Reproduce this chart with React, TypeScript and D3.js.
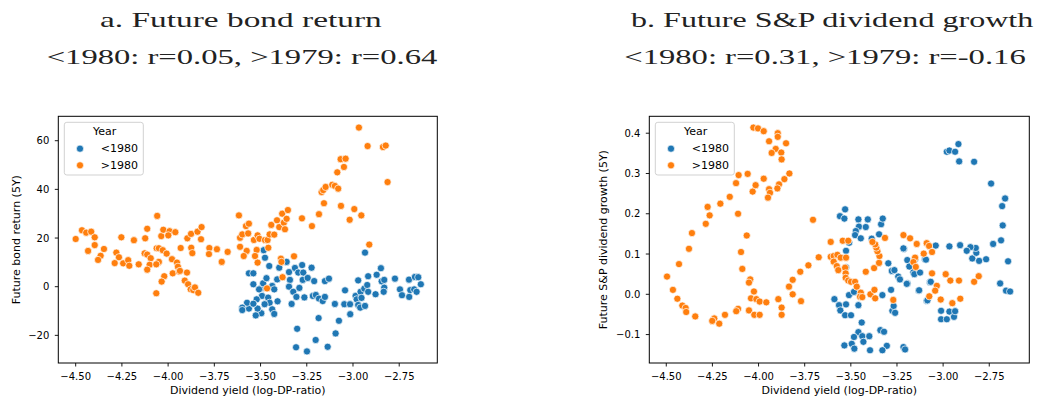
import React from "react";
import * as d3 from "d3";

// ---------- DATA ----------
// Panel a: future bond return (5Y) vs dividend yield
const bondPre: [number, number][] = [
  [-3.483, 15.0], [-3.476, 11.9], [-3.453, 8.5], [-3.563, 5.5], [-3.539, 5.5], [-3.539, 1.0], [-3.498, -0.7],
  [-3.486, 1.4], [-3.468, 3.5], [-3.437, 0.3], [-3.426, -1.1], [-3.41, 3.0], [-3.492, -3.8], [-3.459, -4.5],
  [-3.521, -5.2], [-3.451, -6.6], [-3.408, -6.0], [-3.478, -7.2], [-3.437, -9.3], [-3.426, -11.2], [-3.496, -10.9],
  [-3.516, -9.0], [-3.526, -11.8], [-3.563, -9.0], [-3.573, -6.6], [-3.599, -8.6], [-3.599, -9.6], [-3.539, -7.0],
  [-3.508, -1.1], [-3.359, 10.2], [-3.399, 7.8], [-3.346, 6.0], [-3.314, 7.7], [-3.296, 5.8], [-3.275, 8.9],
  [-3.269, 5.8], [-3.341, 2.8], [-3.272, 2.8], [-3.245, 3.6], [-3.224, 7.8], [-3.346, 0.0], [-3.323, -2.1],
  [-3.29, -0.5], [-3.306, -4.2], [-3.263, -4.4], [-3.332, -7.1], [-3.217, -3.8], [-3.302, -17.3], [-3.308, -24.9],
  [-3.249, -26.6], [-2.935, 14.0], [-3.21, 2.3], [-3.201, -3.4], [-3.184, -4.9], [-3.164, -5.9], [-3.152, -4.2],
  [-3.152, 2.3], [-3.13, 3.3], [-3.186, -12.9], [-3.202, -21.9], [-3.137, -24.7], [-3.098, -7.1], [-3.076, -14.0],
  [-3.094, -19.2], [-3.043, -1.5], [-3.047, -7.2], [-3.016, -7.2], [-3.015, -11.3], [-2.986, -3.8], [-2.98, -5.2],
  [-2.972, 2.6], [-2.959, -2.1], [-2.954, -4.6], [-2.972, -7.5], [-2.961, -8.6], [-2.935, -7.9], [-2.939, -0.8],
  [-2.923, 0.7], [-2.918, -2.1], [-2.918, 4.3], [-2.878, -3.1], [-2.872, 4.9], [-2.849, 7.6], [-2.845, 2.2],
  [-2.831, 2.8], [-2.831, -0.4], [-2.834, -2.1], [-2.773, 3.3], [-2.746, -1.1], [-2.735, -3.5], [-2.697, 2.9],
  [-2.69, -1.4], [-2.696, -4.2], [-2.669, -1.1], [-2.665, 4.0], [-2.647, 3.9], [-2.656, -2.1], [-2.633, 1.0],
];

const bondPost: [number, number][] = [
  [-4.5, 19.6], [-4.466, 23.2], [-4.443, 22.2], [-4.416, 22.6], [-4.397, 20.3], [-4.397, 17.1], [-4.433, 14.7],
  [-4.347, 15.5], [-4.365, 12.7], [-4.379, 11.0], [-4.28, 14.0], [-4.266, 12.1], [-4.289, 9.7], [-4.253, 20.3],
  [-4.243, 9.6], [-4.216, 10.9], [-4.21, 8.6], [-4.185, 19.1], [-4.159, 9.2], [-4.124, 19.9], [-4.113, 23.8],
  [-4.059, 29.1], [-4.127, 13.7], [-4.113, 13.2], [-4.094, 11.7], [-4.1, 9.0], [-4.113, 7.0], [-4.064, -2.7],
  [-4.062, 15.8], [-4.05, 15.8], [-4.05, 10.2], [-4.064, 9.2], [-4.037, 20.8], [-4.026, 23.4], [-4.029, 15.0],
  [-4.008, 13.6], [-4.021, 4.3], [-4.035, 2.1], [-3.992, 22.8], [-3.961, 22.4], [-3.999, 21.1], [-3.979, 11.3],
  [-3.952, 9.9], [-3.947, 8.2], [-3.975, 5.5], [-3.932, 15.9], [-3.896, 19.9], [-3.876, 21.7], [-3.875, 16.0],
  [-3.869, 13.8], [-3.91, 2.5], [-3.892, 1.0], [-3.878, -1.1], [-3.941, 6.2], [-3.936, 6.5], [-3.898, 5.8],
  [-3.864, -1.4], [-3.855, -0.3], [-3.837, -2.5], [-3.841, 22.6], [-3.819, 24.5], [-3.822, 19.5], [-3.777, 15.9],
  [-3.779, 13.4], [-3.736, 15.4], [-3.71, 10.2], [-3.678, 14.3], [-3.617, 29.3], [-3.611, 20.1], [-3.611, 16.4],
  [-3.599, 21.5], [-3.579, 24.9], [-3.563, 25.9], [-3.567, 21.9], [-3.575, 14.7], [-3.591, 12.6], [-3.536, 19.2],
  [-3.516, 21.1], [-3.506, 19.7], [-3.521, 15.1], [-3.53, 12.6], [-3.516, 9.9], [-3.476, 19.2], [-3.462, 19.2],
  [-3.451, 21.5], [-3.458, 16.0], [-3.465, -0.7], [-3.442, 25.4], [-3.426, 21.4], [-3.411, 27.3], [-3.399, 24.5],
  [-3.383, 30.0], [-3.374, 26.3], [-3.368, 23.6], [-3.359, 27.9], [-3.352, 31.5], [-3.39, 11.5], [-3.387, 10.2],
  [-3.381, 3.9], [-3.319, 12.5], [-3.276, 28.1], [-3.222, 24.9], [-3.184, 29.8], [-3.157, 34.3], [-3.17, 38.9],
  [-3.161, 39.7], [-3.148, 41.0], [-3.112, 41.9], [-3.098, 41.4], [-3.08, 40.3], [-3.085, 47.0], [-3.067, 52.4],
  [-3.04, 52.6], [-3.049, 49.2], [-3.065, 33.2], [-3.018, 27.5], [-2.993, 31.9], [-2.955, 29.3], [-2.968, 65.4],
  [-2.921, 57.8], [-2.838, 57.4], [-2.823, 58.0], [-2.813, 43.0], [-2.912, 17.3],
];

// Panel b: future S&P dividend growth (5Y) vs dividend yield
const divPre: [number, number][] = [
  [-3.531, 0.211], [-3.559, 0.194], [-3.535, 0.188], [-3.459, 0.186], [-3.408, 0.186], [-3.456, 0.168],
  [-3.473, 0.157], [-3.477, 0.147], [-3.419, 0.167], [-3.336, 0.174], [-3.327, 0.188], [-3.347, 0.149],
  [-3.387, 0.138], [-3.446, 0.139], [-3.509, 0.128], [-3.526, 0.108], [-3.297, 0.077], [-3.278, 0.058],
  [-3.264, 0.06], [-3.243, 0.044], [-3.234, 0.037], [-3.212, 0.113], [-3.282, 0.011], [-3.329, -0.002],
  [-3.275, -0.041], [-3.268, -0.029], [-3.51, -0.002], [-3.483, 0.006], [-3.459, -0.027], [-3.589, -0.012],
  [-3.564, -0.027], [-3.526, -0.025], [-3.557, -0.04], [-3.531, -0.052], [-3.499, -0.052], [-3.441, -0.07],
  [-3.459, -0.094], [-3.483, -0.106], [-3.438, -0.104], [-3.4, -0.104], [-3.432, -0.118], [-3.495, -0.123],
  [-3.535, -0.127], [-3.481, -0.135], [-3.396, -0.139], [-3.34, -0.089], [-3.32, -0.093], [-3.305, -0.128],
  [-3.329, -0.139], [-3.215, -0.131], [-3.206, -0.137], [-3.193, 0.027], [-3.161, 0.055], [-3.179, 0.074],
  [-3.152, 0.087], [-3.098, 0.087], [-3.04, 0.121], [-3.071, 0.03], [-3.132, 0.009], [-3.089, -0.016],
  [-3.011, -0.041], [-3.011, -0.062], [-2.98, -0.062], [-2.966, -0.043], [-2.941, -0.056], [-2.935, -0.042],
  [-2.98, 0.354], [-2.966, 0.357], [-2.935, 0.354], [-2.917, 0.373], [-2.913, 0.33], [-2.832, 0.329],
  [-2.74, 0.275], [-2.664, 0.238], [-2.68, 0.219], [-2.677, 0.171], [-2.686, 0.134], [-2.729, 0.125],
  [-2.767, 0.087], [-2.648, 0.082], [-2.805, 0.083], [-2.842, 0.089], [-2.82, 0.103], [-2.823, 0.115],
  [-2.852, 0.117], [-2.872, 0.108], [-2.908, 0.122], [-2.966, 0.119], [-3.093, 0.086], [-3.215, 0.114],
  [-3.194, 0.085], [-3.183, 0.069], [-3.156, 0.05], [-3.125, 0.054], [-3.197, 0.026], [-3.13, 0.01],
  [-3.067, 0.031], [-3.085, -0.015], [-2.691, 0.027], [-2.659, 0.009], [-2.637, 0.007], [-3.26, -0.046],
  [-3.526, 0.067],
];

const divPost: [number, number][] = [
  [-4.496, 0.044], [-4.464, 0.011], [-4.44, -0.011], [-4.413, -0.028], [-4.395, -0.034], [-4.392, -0.044],
  [-4.343, -0.055], [-4.431, 0.075], [-4.377, 0.113], [-4.361, 0.152], [-4.286, 0.175], [-4.265, 0.196],
  [-4.276, 0.217], [-4.207, 0.225], [-4.156, 0.242], [-4.122, 0.276], [-4.108, 0.296], [-4.059, 0.299],
  [-4.111, 0.2], [-4.064, 0.146], [-4.095, 0.105], [-4.088, 0.063], [-4.045, 0.037], [-4.052, 0.029],
  [-4.025, 0.007], [-4.041, -0.01], [-4.012, -0.012], [-3.994, -0.018], [-3.958, -0.02], [-4.052, -0.04],
  [-4.023, -0.051], [-3.994, -0.051], [-4.111, -0.036], [-4.121, -0.042], [-4.182, -0.051], [-4.24, -0.06],
  [-4.251, -0.066], [-4.213, -0.073], [-4.032, 0.255], [-4.016, 0.271], [-3.972, 0.287], [-4.028, 0.414],
  [-4.003, 0.412], [-3.972, 0.405], [-3.896, 0.4], [-3.896, 0.391], [-3.943, 0.38], [-3.907, 0.361],
  [-3.929, 0.351], [-3.877, 0.352], [-3.875, 0.335], [-3.943, 0.261], [-3.938, 0.252], [-3.949, 0.24],
  [-3.893, -0.012], [-3.875, -0.033], [-3.875, -0.051], [-3.851, 0.375], [-3.833, 0.3], [-3.86, 0.286],
  [-3.889, 0.273], [-3.898, 0.263], [-3.835, 0.019], [-3.815, 0.036], [-3.815, 0.0], [-3.774, 0.056],
  [-3.77, -0.017], [-3.73, 0.072], [-3.705, 0.185], [-3.674, 0.092], [-3.609, 0.13], [-3.609, 0.093],
  [-3.593, 0.095], [-3.573, 0.098], [-3.593, 0.081], [-3.576, 0.07], [-3.568, 0.06], [-3.555, 0.091],
  [-3.526, 0.091], [-3.544, 0.133], [-3.514, 0.133], [-3.531, 0.066], [-3.528, 0.052], [-3.528, 0.041],
  [-3.514, 0.034], [-3.499, 0.031], [-3.477, 0.031], [-3.468, 0.019], [-3.446, 0.004], [-3.45, -0.006],
  [-3.438, -0.007], [-3.394, 0.0], [-3.372, 0.011], [-3.368, -0.01], [-3.419, 0.056], [-3.374, 0.065],
  [-3.347, 0.078], [-3.345, 0.095], [-3.356, 0.107], [-3.362, 0.116], [-3.368, 0.124], [-3.383, 0.13],
  [-3.315, 0.14], [-3.27, -0.014], [-3.215, 0.147], [-3.179, 0.139], [-3.143, 0.125], [-3.089, 0.127],
  [-3.076, 0.12], [-3.06, 0.105], [-3.105, 0.101], [-3.152, 0.091], [-3.161, 0.08], [-3.148, 0.068],
  [-3.06, 0.052], [-3.034, 0.021], [-3.043, 0.009], [-3.075, -0.005], [-3.013, -0.013], [-2.986, 0.05],
  [-2.961, 0.034], [-2.95, -0.022], [-2.914, 0.034], [-2.907, -0.011], [-2.832, 0.031], [-2.807, 0.045],
];

const xTicks = [-4.5, -4.25, -4.0, -3.75, -3.5, -3.25, -3.0, -2.75];
const bondYTicks = [-20, 0, 20, 40, 60];
const divYTicks = [-0.1, 0.0, 0.1, 0.2, 0.3, 0.4];
const legendLabels = ["<1980", ">1980"];
const legendTitle = "Year";
const xLabel = "Dividend yield (log-DP-ratio)";
const bondTitle = ["a. Future bond return", "<1980: r=0.05, >1979: r=0.64"];
const divTitle = ["b. Future S&P dividend growth", "<1980: r=0.31, >1979: r=-0.16"];

const BLUE = "#1f77b4";
const ORANGE = "#ff7f0e";
const SANS = "'DejaVu Sans', sans-serif";
const SERIF = "'Liberation Serif', 'DejaVu Serif', serif";

type PanelProps = {
  left: number;
  right: number;
  top: number;
  bottom: number;
  xDomain: [number, number];
  yDomain: [number, number];
  yTicks: number[];
  yFmt: (v: number) => string;
  yLabel: string;
  yLabelX: number;
  pre: [number, number][];
  post: [number, number][];
  title: string[];
  titleX: number[];
  titleLen: number[];
};

function Panel(p: PanelProps) {
  const x = d3.scaleLinear().domain(p.xDomain).range([p.left, p.right]);
  const y = d3.scaleLinear().domain(p.yDomain).range([p.bottom, p.top]);
  const xFmt = d3.format(".2f");
  const tick = 3.5;
  const cx = (p.left + p.right) / 2;
  const cy = (p.top + p.bottom) / 2;
  const lx = p.left + 6;
  const ly = p.top + 6;
  return (
    <g>
      {/* titles */}
      {p.title.map((t, i) => (
        <text
          key={t}
          x={p.titleX[i]}
          y={i === 0 ? 27.3 : 64.3}
          fontFamily={SERIF}
          fontSize={22}
          textLength={p.titleLen[i]}
          lengthAdjust="spacingAndGlyphs"
          fill="#222"
        >
          {t}
        </text>
      ))}
      {/* points */}
      <g>
        {p.pre.map((d, i) => (
          <circle key={"a" + i} cx={x(d[0])} cy={y(d[1])} r={3.6} fill={BLUE} stroke="#fff" strokeWidth={0.7} />
        ))}
        {p.post.map((d, i) => (
          <circle key={"b" + i} cx={x(d[0])} cy={y(d[1])} r={3.6} fill={ORANGE} stroke="#fff" strokeWidth={0.7} />
        ))}
      </g>
      {/* frame */}
      <rect x={p.left} y={p.top} width={p.right - p.left} height={p.bottom - p.top} fill="none" stroke="#000" strokeWidth={1} />
      {/* x ticks */}
      {xTicks.map((t) => (
        <g key={"x" + t}>
          <line x1={x(t)} x2={x(t)} y1={p.bottom} y2={p.bottom + tick} stroke="#000" strokeWidth={0.9} />
          <text x={x(t)} y={p.bottom + 16.5} textAnchor="middle" fontFamily={SANS} fontSize={10} fill="#000">
            {xFmt(t)}
          </text>
        </g>
      ))}
      {/* y ticks */}
      {p.yTicks.map((t) => (
        <g key={"y" + t}>
          <line x1={p.left - tick} x2={p.left} y1={y(t)} y2={y(t)} stroke="#000" strokeWidth={0.9} />
          <text x={p.left - 9} y={y(t) + 3.6} textAnchor="end" fontFamily={SANS} fontSize={10} fill="#000">
            {p.yFmt(t)}
          </text>
        </g>
      ))}
      {/* axis labels */}
      <text x={cx} y={394} textAnchor="middle" fontFamily={SANS} fontSize={11} fill="#000">
        {xLabel}
      </text>
      <text
        transform={`translate(${p.yLabelX},${cy}) rotate(-90)`}
        textAnchor="middle"
        fontFamily={SANS}
        fontSize={11}
        fill="#000"
      >
        {p.yLabel}
      </text>
      {/* legend */}
      <g>
        <rect x={lx} y={ly} width={79} height={52.7} rx={2.5} fill="#fff" fillOpacity={0.8} stroke="#cccccc" strokeWidth={0.9} />
        <text x={lx + 40.3} y={ly + 12.7} textAnchor="middle" fontFamily={SANS} fontSize={11} fill="#000">
          {legendTitle}
        </text>
        {legendLabels.map((l, i) => (
          <g key={l}>
            <circle cx={lx + 15.7} cy={ly + 26.4 + i * 16.6} r={3.6} fill={i === 0 ? BLUE : ORANGE} stroke="#fff" strokeWidth={0.7} />
            <text x={lx + 36.4} y={ly + 29.9 + i * 16.6} fontFamily={SANS} fontSize={11} fill="#000">
              {l}
            </text>
          </g>
        ))}
      </g>
    </g>
  );
}

export default function App() {
  return (
    <svg
      width={1043}
      height={403}
      style={{ position: "absolute", left: 0, top: 0, background: "#fff" }}
    >
      <rect x={0} y={0} width={1043} height={403} fill="#fff" />
      <Panel
        left={58.3}
        right={437.3}
        top={116.3}
        bottom={363}
        xDomain={[-4.594, -2.544]}
        yDomain={[-31.36, 70.03]}
        yTicks={bondYTicks}
        yFmt={d3.format("d")}
        yLabel="Future bond return (5Y)"
        yLabelX={19.5}
        pre={bondPre}
        post={bondPost}
        title={bondTitle}
        titleX={[100, 46.7]}
        titleLen={[281.7, 390.6]}
      />
      <Panel
        left={649.3}
        right={1029.3}
        top={116.3}
        bottom={363}
        xDomain={[-4.592, -2.533]}
        yDomain={[-0.1706, 0.442]}
        yTicks={divYTicks}
        yFmt={d3.format(".1f")}
        yLabel="Future S&P dividend growth (5Y)"
        yLabelX={607}
        pre={divPre}
        post={divPost}
        title={divTitle}
        titleX={[631, 624.3]}
        titleLen={[402.3, 401.4]}
      />
    </svg>
  );
}
